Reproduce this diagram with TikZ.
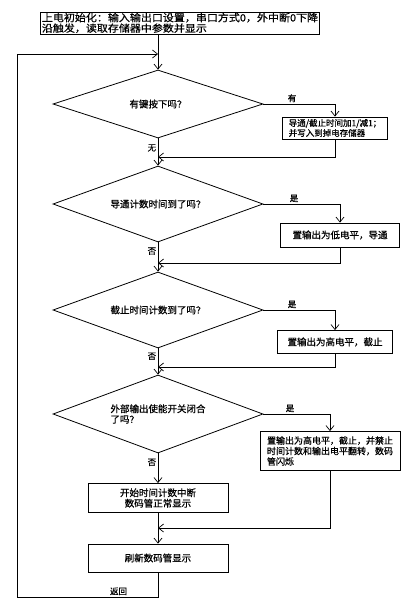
\documentclass[tikz,border=0pt]{standalone}
\usepackage{fontspec}
\newfontfamily\cjk{Noto Sans CJK SC}[FakeBold=0.7]
\newfontfamily\cjkwide{Noto Sans CJK SC}[FakeBold=0.7,FakeStretch=1.1]
\usetikzlibrary{arrows.meta,shapes.geometric}

\begin{document}
\begin{tikzpicture}[x=1pt,y=-1pt,
  box/.style={draw,line width=0.8pt,inner sep=1pt,font=\cjk\fontsize{9.5}{10.5}\selectfont,align=center},
  decision/.style={draw,diamond,aspect=2.8,line width=0.8pt,minimum width=210pt,minimum height=76pt,inner sep=0pt,font=\cjk\fontsize{9.5}{10.5}\selectfont,align=left},
  lbl/.style={font=\cjk\fontsize{8.5}{10}\selectfont,inner sep=1.5pt},
  flow/.style={line width=0.7pt,-{Straight Barb[length=5pt,width=8pt]}},
  line/.style={line width=0.7pt}]
\useasboundingbox (0,0) rectangle (414,607);

% Start box
\node[box,minimum width=273pt,minimum height=22pt,align=left,font=\cjkwide\fontsize{10}{10.5}\selectfont] (init) at (180,23)
  {上电初始化：输入输出口设置，串口方式0，外中断0下降\\沿触发，读取存储器中参数并显示};

% Decisions on the main line
\node[decision,minimum height=68pt] (d1) at (158,104) {有键按下吗？};
\node[decision] (d2) at (158,204) {导通计数时间到了吗？};
\node[decision] (d3) at (158,310) {截止时间计数到了吗？};
\node[decision,minimum height=78pt] (d4) at (158,414) {外部输出使能开关闭合\\了吗？};

% Side boxes
\node[box,minimum width=105pt,minimum height=22pt,align=left,font=\cjk\fontsize{8.5}{10}\selectfont] (b1) at (335,128)
  {导通/截止时间加1/减1；\\并写入到掉电存储器};
\node[box,minimum width=119pt,minimum height=24pt] (b2) at (340,235) {置输出为低电平，导通};
\node[box,minimum width=115pt,minimum height=23pt] (b3) at (335,342) {置输出为高电平，截止};
\node[box,minimum width=140pt,minimum height=39pt,align=left,font=\cjk\fontsize{9}{10.5}\selectfont] (b4) at (330,451)
  {置输出为高电平，截止，并禁止\\时间计数和输出电平翻转，数码\\管闪烁};

% Lower boxes
\node[box,minimum width=140pt,minimum height=29pt] (b5) at (158,498) {开始时间计数中断\\数码管正常显示};
\node[box,minimum width=140pt,minimum height=28pt] (b6) at (158,558) {刷新数码管显示};

% Join points
\coordinate (top) at (158,54);
\coordinate (m1) at (158,157);
\coordinate (m2) at (158,263);
\coordinate (m3) at (158,367);
\coordinate (m4) at (158,528);
\coordinate (lp) at (17,597);

% Connectors
\draw[line] (init.south -| top) -- (top);
\draw[flow] (top) -- (d1.north);
\draw[flow] (d1.east) -| node[lbl,pos=0.2,above]{有} (b1.north);
\draw[flow] (b1.south) |- (m1);
\draw[flow] (d1.south) -- node[lbl,pos=0.35,left]{无} (d2.north);

\draw[flow] (d2.east) -| node[lbl,pos=0.2,above]{是} (b2.north);
\draw[flow] (b2.south) |- (m2);
\draw[flow] (d2.south) -- node[lbl,pos=0.3,left]{否} (d3.north);

\draw[flow] (d3.east) -| node[lbl,pos=0.2,above]{是} (b3.north);
\draw[flow] (b3.south) |- (m3);
\draw[flow] (d3.south) -- node[lbl,pos=0.3,left]{否} (d4.north);

\draw[flow] (d4.east) -| node[lbl,pos=0.2,above]{是} (b4.north);
\draw[flow] (b4.south) |- (m4);
\draw[flow] (d4.south) -- node[lbl,pos=0.3,left]{否} (b5.north);
\draw[flow] (b5.south) -- (b6.north);

% Return loop
\draw[flow] (b6.south) |- node[lbl,above,pos=0.64]{返回} (lp) |- (top);
\end{tikzpicture}
\end{document}
